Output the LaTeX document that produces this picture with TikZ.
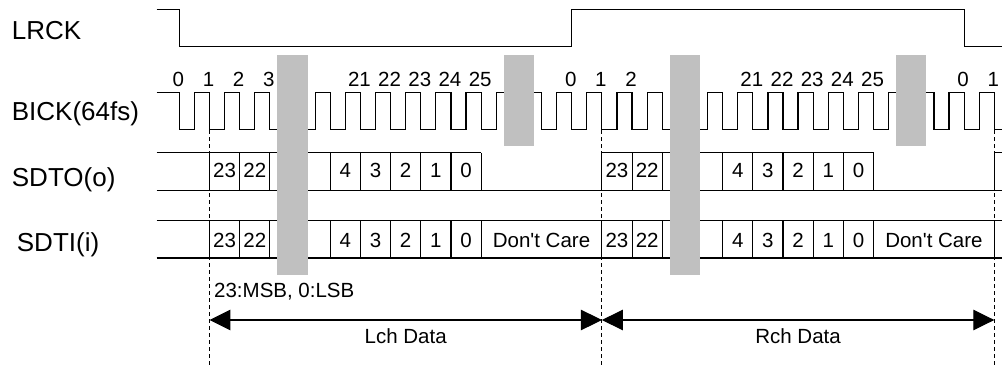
\documentclass[tikz,border=0pt]{standalone}
\usepackage{fontspec}
\setmainfont{Liberation Sans}
\usetikzlibrary{arrows.meta,calc}
\definecolor{boxgray}{RGB}{192,192,192}
\begin{document}
\begin{tikzpicture}[x=1pt,y=-1pt,
  wave/.style={line width=1.2pt, line join=miter},
  row/.style={line width=1.15pt},
  lab/.style={font=\fontsize{26}{30}\selectfont, inner sep=0pt, anchor=base west},
  sm/.style={font=\fontsize{20.5}{24}\selectfont, inner sep=0pt, anchor=base},
  mask/.style={fill=boxgray, draw=none},
  guide/.style={line width=1pt, dash pattern=on 4pt off 3pt},
  dim/.style={line width=1.1pt, {Triangle[length=21pt,width=20.5pt]}-{Triangle[length=21pt,width=20.5pt]}}
]
\useasboundingbox (0,0) rectangle (1002,367);
\fill[white] (0,0) rectangle (1002,367);
\pgfmathsetmacro\fz{179.3}
\pgfmathsetmacro\p{30.185}
\pgfmathsetmacro\hp{13*\p}

% signal names
\node[lab] (lrck) at (11.7,39.3) {LRCK};
\node[lab] (bick) at (11.7,120) {BICK(64fs)};
\node[lab] (sdto) at (11.7,186.5) {SDTO(o)};
\node[lab] (sdti) at (16.7,251.7) {SDTI(i)};

% LRCK
\draw[wave] (156.7,9.3) -- (\fz,9.3) -- (\fz,46.7) -- ({\fz+\hp},46.7) -- ({\fz+\hp},9.3)
  -- ({\fz+2*\hp},9.3) -- ({\fz+2*\hp},46.7) -- (1002,46.7);

% BICK
\draw[wave] (156.7,92.5) \foreach \k in {0,...,26}{ -- ({\fz+\k*\p},92.5) -- ({\fz+\k*\p},129.5)
  -- ({\fz+(\k+0.5)*\p},129.5) -- ({\fz+(\k+0.5)*\p},92.5)}
  -- ({\fz+27*\p},92.5) -- ({\fz+27*\p},129.5) -- (1002,129.5);

% clock edge numbers
\foreach \k/\t in {0/0,1/1,2/2,3/3,6/21,7/22,8/23,9/24,10/25,13/0,14/1,15/2,19/21,20/22,21/23,22/24,23/25,26/0,27/1}
  \node[sm] (c\k) at ({\fz+\k*\p-1},86.5) {\t};

% data rows
\draw[row] (156.7,152.8) -- ({\fz+10*\p},152.8);
\draw[row] ({\fz+14*\p},152.8) -- ({\fz+23*\p},152.8);
\draw[row] ({\fz+27*\p},152.8) -- (1002,152.8);
\draw[row] (156.7,190.3) -- (1002,190.3);
\draw[row] (156.7,220.5) -- (1002,220.5);
\draw[row] (156.7,258) -- (1002,258);
\foreach \k in {1,2,3,5,6,7,8,9,10,14,15,16,18,19,20,21,22,23,27}{
  \draw[row] ({\fz+\k*\p},152.8) -- ({\fz+\k*\p},190.3);
  \draw[row] ({\fz+\k*\p},220.5) -- ({\fz+\k*\p},258);
}
\foreach \h in {0,1}{
  \foreach \k/\t in {1/23,2/22,5/4,6/3,7/2,8/1,9/0}{
    \node[sm] (o\h\k) at ({\fz+(\h*13+\k+0.5)*\p},177.5) {\t};
    \node[sm] (i\h\k) at ({\fz+(\h*13+\k+0.5)*\p},247.3) {\t};
  }
  \node[sm] (dc\h) at ({\fz+(\h*13+12)*\p},247.3) {Don\textquotesingle t Care};
}

% guide lines
\foreach \k/\n in {1/ga,14/gb,27/gc}{
  \coordinate (\n) at ({\fz+\k*\p},320);
  \draw[guide] ({\fz+\k*\p},130) -- ({\fz+\k*\p},367);
}

% gray masks
\foreach \h in {0,1}{
  \fill[mask] ({\fz+(\h*13+3.25)*\p},55) rectangle ({\fz+(\h*13+4.25)*\p},274.5);
  \fill[mask] ({\fz+(\h*13+10.75)*\p},55) rectangle ({\fz+(\h*13+11.75)*\p},146);
}

% dimension arrows
\draw[dim] (ga) -- (gb);
\draw[dim] (gb) -- (gc);
\node[sm] (lch) at ($(ga)!0.5!(gb)+(0,23.3)$) {Lch Data};
\node[sm] (rch) at ($(gb)!0.5!(gc)+(0,23.3)$) {Rch Data};
\node[sm, anchor=base west] (note) at (214,297.7) {23:MSB, 0:LSB};
\end{tikzpicture}
\end{document}
